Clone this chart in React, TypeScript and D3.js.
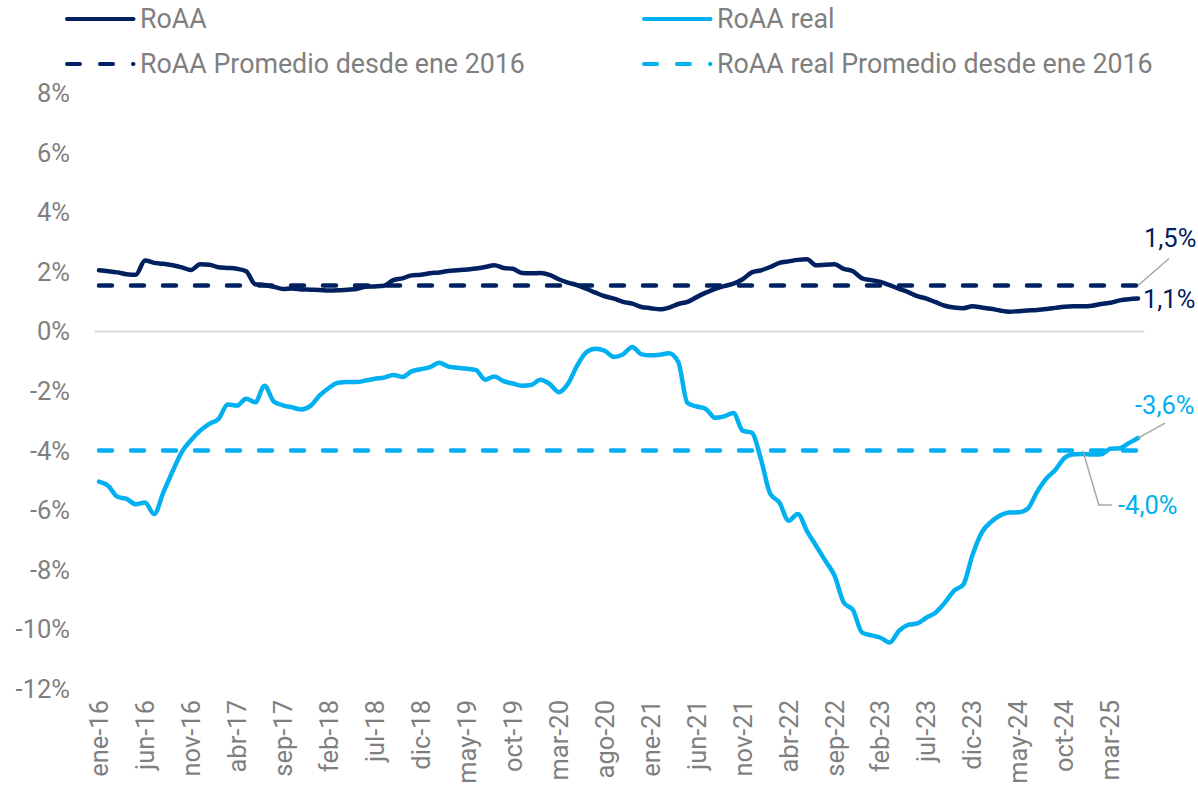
import React from "react"
import * as d3 from "d3"

// monthly values, ene-16 .. jun-25
const monthNames = ["ene", "feb", "mar", "abr", "may", "jun", "jul", "ago", "sep", "oct", "nov", "dic"]

const roaa = [
  2.05, 2.02, 1.98, 1.92, 1.9, 2.38, 2.3, 2.27, 2.22, 2.15, 2.06, 2.25,
  2.24, 2.15, 2.13, 2.1, 2.02, 1.58, 1.56, 1.5, 1.42, 1.44, 1.41, 1.4,
  1.39, 1.37, 1.38, 1.4, 1.42, 1.5, 1.51, 1.53, 1.72, 1.78, 1.88, 1.9,
  1.95, 1.98, 2.03, 2.05, 2.08, 2.11, 2.16, 2.22, 2.13, 2.1, 1.96, 1.95,
  1.96, 1.9, 1.75, 1.64, 1.55, 1.43, 1.3, 1.18, 1.1, 0.99, 0.93, 0.82,
  0.78, 0.74, 0.8, 0.92, 0.99, 1.15, 1.3, 1.43, 1.52, 1.6, 1.75, 1.98,
  2.05, 2.16, 2.3, 2.35, 2.4, 2.42, 2.22, 2.24, 2.25, 2.1, 2.02, 1.78,
  1.72, 1.66, 1.55, 1.43, 1.32, 1.18, 1.1, 0.98, 0.86, 0.8, 0.78, 0.84,
  0.8, 0.76, 0.7, 0.66, 0.68, 0.7, 0.72, 0.75, 0.79, 0.83, 0.84, 0.84,
  0.86, 0.92, 0.96, 1.04, 1.08, 1.1,
]

const roaaReal = [
  -5.04, -5.18, -5.55, -5.62, -5.8, -5.74, -6.13, -5.4, -4.7, -4.05, -3.65, -3.33,
  -3.1, -2.94, -2.45, -2.49, -2.26, -2.38, -1.82, -2.35, -2.48, -2.55, -2.62, -2.5,
  -2.15, -1.9, -1.72, -1.7, -1.7, -1.65, -1.59, -1.55, -1.46, -1.53, -1.34, -1.27,
  -1.2, -1.05, -1.18, -1.22, -1.25, -1.3, -1.62, -1.51, -1.67, -1.75, -1.82, -1.8,
  -1.62, -1.76, -2.04, -1.76, -1.15, -0.7, -0.58, -0.65, -0.86, -0.77, -0.52, -0.77,
  -0.8, -0.78, -0.73, -1.03, -2.4, -2.52, -2.6, -2.9, -2.85, -2.74, -3.33, -3.4,
  -4.3, -5.45, -5.74, -6.35, -6.13, -6.7, -7.2, -7.7, -8.2, -9.1, -9.35, -10.11,
  -10.2, -10.28, -10.44, -10.05, -9.85, -9.8, -9.6, -9.43, -9.1, -8.7, -8.5, -7.5,
  -6.75, -6.4, -6.18, -6.08, -6.07, -5.95, -5.4, -4.95, -4.65, -4.25, -4.12, -4.11,
  -4.13, -4.12, -3.94, -3.92, -3.75, -3.58,
]

const roaaAvg = 1.54
const roaaRealAvg = -4.0

const yTicks = [8, 6, 4, 2, 0, -2, -4, -6, -8, -10, -12]

const categories = roaa.map((_, i) => {
  const m = i % 12
  const yr = 16 + Math.floor(i / 12)
  return `${monthNames[m]}-${yr}`
})

const DARK = "#002060"
const LIGHT = "#00B0F0"
const GRAY = "#7f7f7f"
const FONT = "Roboto, 'Noto Sans', sans-serif"

export default function App() {
  const width = 1198
  const height = 795

  const x = d3.scaleLinear().domain([0, roaa.length - 1]).range([99, 1138])
  const y = d3.scaleLinear().domain([-12, 8]).range([689, 93])

  const line = d3
    .line<number>()
    .x((_, i) => x(i))
    .y((d) => y(d))
    .curve(d3.curveMonotoneX)

  const last = roaa.length - 1
  const fmt = (v: number) => `${v.toFixed(1).replace(".", ",")}%`

  const legend = [
    { label: "RoAA", color: DARK, dash: null, lx: 65, ly: 19 },
    { label: "RoAA real", color: LIGHT, dash: null, lx: 642, ly: 19 },
    { label: "RoAA Promedio desde ene 2016", color: DARK, dash: "13,20", lx: 65, ly: 64 },
    { label: "RoAA real Promedio desde ene 2016", color: LIGHT, dash: "13,20", lx: 642, ly: 64 },
  ]

  const avgDarkY = y(roaaAvg)
  const avgLightY = y(roaaRealAvg)

  return (
    <div style={{ position: "fixed", left: 0, top: 0 }}>
      <svg width={width} height={height} style={{ display: "block", background: "#fff" }} fontFamily={FONT}>
        {/* legend */}
        {legend.map((l) => (
          <g key={l.label}>
            <line
              x1={l.lx + 2}
              x2={l.lx + 68.5}
              y1={l.ly}
              y2={l.ly}
              stroke={l.color}
              strokeWidth={4}
              strokeLinecap="round"
              strokeDasharray={l.dash ?? undefined}
            />
            <text x={l.lx + 75} y={l.ly} dy="0.35em" fontSize={26.8} fill={GRAY}>
              {l.label}
            </text>
          </g>
        ))}

        {/* y axis labels */}
        {yTicks.map((t) => (
          <text key={t} x={70} y={y(t)} dy="0.35em" textAnchor="end" fontSize={25.5} fill={GRAY}>
            {`${t}%`}
          </text>
        ))}

        {/* zero line */}
        <line x1={x(-0.5)} x2={x(last + 0.7)} y1={y(0)} y2={y(0)} stroke="#d9d9d9" strokeWidth={2} />

        {/* x axis labels */}
        {categories.map((c, i) =>
          i % 5 === 0 ? (
            <text
              key={c}
              transform={`translate(${x(i)},700) rotate(-90)`}
              dy="0.35em"
              textAnchor="end"
              fontSize={25.5}
              fill={GRAY}
            >
              {c}
            </text>
          ) : null
        )}

        {/* average lines */}
        <line
          x1={x(0)}
          x2={x(last)}
          y1={avgDarkY}
          y2={avgDarkY}
          stroke={DARK}
          strokeWidth={4.5}
          strokeLinecap="round"
          strokeDasharray="13,19"
        />
        <line
          x1={x(0)}
          x2={x(last)}
          y1={avgLightY}
          y2={avgLightY}
          stroke={LIGHT}
          strokeWidth={4.5}
          strokeLinecap="round"
          strokeDasharray="13,19"
        />

        {/* series */}
        <path d={line(roaa) ?? ""} fill="none" stroke={DARK} strokeWidth={4.5} strokeLinejoin="round" strokeLinecap="round" />
        <path d={line(roaaReal) ?? ""} fill="none" stroke={LIGHT} strokeWidth={4.5} strokeLinejoin="round" strokeLinecap="round" />

        {/* data labels */}
        <line x1={x(last)} y1={avgDarkY} x2={x(last) + 31} y2={avgDarkY - 27} stroke="#a6a6a6" strokeWidth={1.5} />
        <text x={1144} y={238} dy="0.35em" fontSize={25.5} fill={DARK}>
          {fmt(roaaAvg)}
        </text>
        <text x={x(last) + 5} y={y(roaa[last])} dy="0.35em" fontSize={25.5} fill={DARK}>
          {fmt(roaa[last])}
        </text>

        <line x1={x(last)} y1={y(roaaReal[last])} x2={x(last) + 27} y2={y(roaaReal[last]) - 15} stroke="#a6a6a6" strokeWidth={1.5} />
        <text x={1135} y={405} dy="0.35em" fontSize={25.5} fill={LIGHT}>
          {fmt(roaaReal[last])}
        </text>
        <polyline
          points={`${x(107)},${avgLightY} ${x(107) + 16},505 ${x(107) + 29},505`}
          fill="none"
          stroke="#a6a6a6"
          strokeWidth={1.5}
        />
        <text x={1118} y={505} dy="0.35em" fontSize={25.5} fill={LIGHT}>
          {fmt(roaaRealAvg)}
        </text>
      </svg>
    </div>
  )
}
